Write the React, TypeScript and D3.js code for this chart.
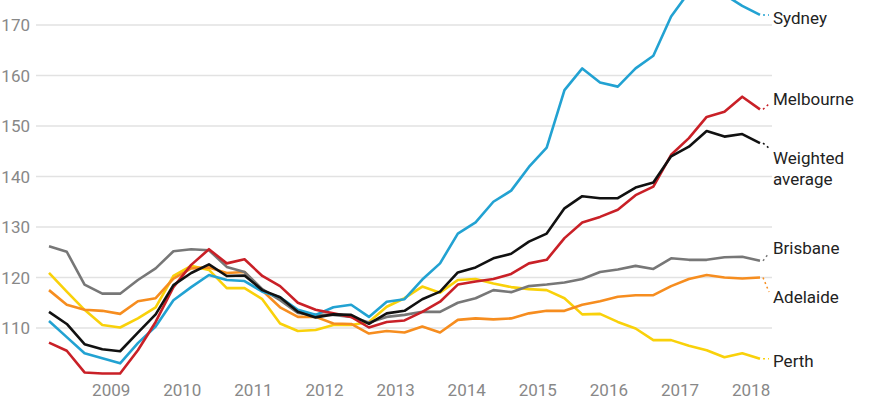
import React, { useRef, useEffect } from "react";
import * as d3 from "d3";

// quarterly, Mar 2008 .. Mar 2018
const quarters = [
  "2008Q1", "2008Q2", "2008Q3", "2008Q4",
  "2009Q1", "2009Q2", "2009Q3", "2009Q4",
  "2010Q1", "2010Q2", "2010Q3", "2010Q4",
  "2011Q1", "2011Q2", "2011Q3", "2011Q4",
  "2012Q1", "2012Q2", "2012Q3", "2012Q4",
  "2013Q1", "2013Q2", "2013Q3", "2013Q4",
  "2014Q1", "2014Q2", "2014Q3", "2014Q4",
  "2015Q1", "2015Q2", "2015Q3", "2015Q4",
  "2016Q1", "2016Q2", "2016Q3", "2016Q4",
  "2017Q1", "2017Q2", "2017Q3", "2017Q4",
  "2018Q1",
];

const sydney = [
  111.4, 108.2, 105, 104, 103, 107, 110.3, 115.5, 118.1, 120.5, 119.5, 119.3,
  117.2, 116.1, 113.6, 112.6, 114.1, 114.6, 112.2, 115.2, 115.7, 119.6, 122.8,
  128.7, 130.9, 135, 137.2, 141.9, 145.7, 157.1, 161.4, 158.6, 157.8, 161.4,
  163.9, 171.7, 176.5, 177.5, 176, 173.8, 172,
];

const melbourne = [
  107.1, 105.5, 101.2, 101, 101, 105.6, 111.2, 118.1, 122.5, 125.6, 122.8,
  123.6, 120.3, 118.3, 115, 113.6, 112.9, 112.2, 110.1, 111.2, 111.5, 113.2,
  115.2, 118.6, 119.2, 119.7, 120.7, 122.8, 123.5, 127.8, 130.9, 132, 133.4,
  136.3, 138, 144.3, 147.6, 151.8, 152.8, 155.8, 153.3,
];

const weighted = [
  113.2, 110.8, 106.8, 105.8, 105.4, 109.1, 112.7, 118.5, 120.9, 122.6, 120.3,
  120.4, 117.5, 116.1, 113.2, 112.1, 112.7, 112.6, 110.8, 112.9, 113.4, 115.7,
  117.2, 121, 122, 123.8, 124.7, 127.1, 128.7, 133.7, 136.1, 135.7, 135.7,
  137.8, 138.8, 144, 145.9, 149, 147.9, 148.4, 146.6,
];

const brisbane = [
  126.2, 125.1, 118.6, 116.8, 116.8, 119.5, 121.8, 125.2, 125.6, 125.4, 122.1,
  121.1, 117.7, 115.5, 113, 112.6, 112.6, 112.2, 111.1, 112.2, 112.6, 113.2,
  113.2, 115, 115.9, 117.5, 117.1, 118.3, 118.6, 119, 119.7, 121.1, 121.6,
  122.3, 121.7, 123.8, 123.5, 123.5, 124, 124.1, 123.3,
];

const adelaide = [
  117.5, 114.6, 113.6, 113.4, 112.8, 115.3, 115.9, 119.8, 121.8, 122, 120.9,
  121.1, 117.4, 114.1, 112.2, 112.2, 110.9, 110.8, 108.9, 109.4, 109.1, 110.3,
  109.1, 111.6, 111.9, 111.7, 111.9, 112.9, 113.4, 113.4, 114.6, 115.3, 116.2,
  116.5, 116.5, 118.3, 119.7, 120.5, 120, 119.8, 120,
];

const perth = [
  120.9, 117.2, 113.6, 110.6, 110.1, 111.9, 114.1, 120.3, 122.3, 121.5, 117.9,
  117.9, 115.7, 110.9, 109.4, 109.6, 110.6, 110.6, 111.2, 114.2, 115.9, 118.2,
  117, 119.5, 119.7, 118.8, 118.1, 117.7, 117.5, 115.9, 112.7, 112.8, 111.2,
  109.9, 107.6, 107.6, 106.5, 105.6, 104.2, 105, 103.9,
];

const yTicks = [110, 120, 130, 140, 150, 160, 170];
const xTicks = [2009, 2010, 2011, 2012, 2013, 2014, 2015, 2016, 2017, 2018];

// drawing order: back to front
const series = [
  { name: ["Perth"], values: perth, color: "#f9d10a", labelY: 361 },
  { name: ["Adelaide"], values: adelaide, color: "#f68d1f", labelY: 297 },
  { name: ["Brisbane"], values: brisbane, color: "#777777", labelY: 248 },
  { name: ["Sydney"], values: sydney, color: "#22a2d2", labelY: 18 },
  { name: ["Melbourne"], values: melbourne, color: "#c92027", labelY: 99 },
  { name: ["Weighted", "average"], values: weighted, color: "#111111", labelY: 158 },
];

const toYear = (q: string) => +q.slice(0, 4) + (+q.slice(5) - 0.5) / 4;

const App: React.FC = () => {
  const ref = useRef<SVGSVGElement | null>(null);

  useEffect(() => {
    if (!ref.current) return;
    const svg = d3.select(ref.current);
    svg.selectAll("*").remove();

    const width = 870;
    const height = 400;
    const font = "Roboto, 'Noto Sans', sans-serif";

    svg.attr("width", width).attr("height", height);

    const x = d3
      .scaleLinear()
      .domain([toYear(quarters[0]), toYear(quarters[quarters.length - 1])])
      .range([49, 760]);

    const y = d3.scaleLinear().domain([110, 170]).range([328, 25]);

    // grid + y labels
    const grid = svg.append("g");
    grid
      .selectAll("line")
      .data(yTicks)
      .enter()
      .append("line")
      .attr("x1", 36)
      .attr("x2", 772)
      .attr("y1", (d) => y(d))
      .attr("y2", (d) => y(d))
      .attr("stroke", "#e2e2e2")
      .attr("stroke-width", 1.5);

    grid
      .selectAll("text")
      .data(yTicks)
      .enter()
      .append("text")
      .attr("x", 30)
      .attr("y", (d) => y(d))
      .attr("dy", "0.36em")
      .attr("text-anchor", "end")
      .attr("font-family", font)
      .attr("font-size", 17)
      .attr("fill", "#888")
      .text((d) => d);

    svg
      .append("g")
      .selectAll("text")
      .data(xTicks)
      .enter()
      .append("text")
      .attr("x", (d) => x(d))
      .attr("y", 396)
      .attr("text-anchor", "middle")
      .attr("font-family", font)
      .attr("font-size", 17)
      .attr("fill", "#888")
      .text((d) => d);

    const line = d3
      .line<number>()
      .x((_, i) => x(toYear(quarters[i])))
      .y((d) => y(d));

    svg
      .append("g")
      .selectAll("path")
      .data(series)
      .enter()
      .append("path")
      .attr("d", (s) => line(s.values))
      .attr("fill", "none")
      .attr("stroke", (s) => s.color)
      .attr("stroke-width", 2.6)
      .attr("stroke-linejoin", "round");

    // labels with dotted leaders
    const lastX = x(toYear(quarters[quarters.length - 1]));
    const labels = svg.append("g");
    series.forEach((s) => {
      const endY = y(s.values[s.values.length - 1]);
      const targetY = s.name.length > 1 ? s.labelY - 5 : s.labelY;
      const leadY = Math.abs(targetY - endY) < 6 ? endY : targetY + (endY > targetY ? 5 : -5);
      labels
        .append("line")
        .attr("x1", lastX + 3)
        .attr("y1", endY)
        .attr("x2", 769)
        .attr("y2", leadY)
        .attr("stroke", s.color)
        .attr("stroke-width", 1.5)
        .attr("stroke-dasharray", "2,3");

      const t = labels
        .append("text")
        .attr("x", 773)
        .attr("y", s.labelY)
        .attr("font-family", font)
        .attr("font-size", 17)
        .attr("fill", "#222");
      s.name.forEach((n, i) => {
        t.append("tspan")
          .attr("x", 773)
          .attr("dy", i === 0 ? "0.36em" : "1.2em")
          .text(n);
      });
    });
  }, []);

  return (
    <div style={{ position: "absolute", left: 0, top: 0 }}>
      <svg ref={ref} style={{ display: "block" }} />
    </div>
  );
};

export default App;
